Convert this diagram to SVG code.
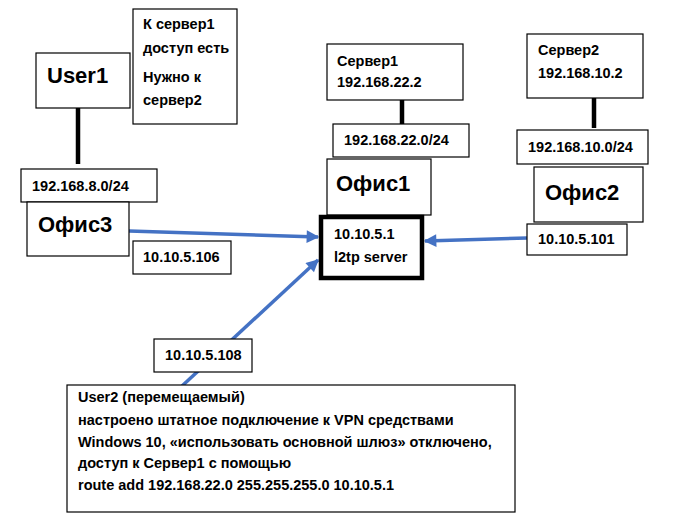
<svg xmlns="http://www.w3.org/2000/svg" width="681" height="524" viewBox="0 0 681 524">
<defs>
<style>
.b{fill:#fff;stroke:#000;stroke-width:1.2}
.t{font-family:"Liberation Sans",Arial,sans-serif;font-weight:bold;font-size:14.5px;fill:#000}
.h{font-family:"Liberation Sans",Arial,sans-serif;font-weight:bold;font-size:22px;fill:#000}
.k{stroke:#000;stroke-width:4.5}
.a{stroke:#4472C4;stroke-width:3.5;fill:none;marker-end:url(#ah)}
</style>
<marker id="ah" viewBox="0 0 10 10" refX="9" refY="5" markerWidth="4.5" markerHeight="3.6" orient="auto" markerUnits="strokeWidth">
<path d="M0,0 L10,5 L0,10 z" fill="#4472C4"/>
</marker>
</defs>
<rect width="681" height="524" fill="#fff"/>
<g id="connectors">
<line class="k" x1="78" y1="108" x2="78" y2="164"/>
<line class="k" x1="402" y1="100" x2="402" y2="128"/>
<line class="k" x1="594" y1="98" x2="594" y2="128"/>
<line class="a" x1="129" y1="231" x2="318" y2="237"/>
<line class="a" x1="527" y1="238" x2="425" y2="241"/>
<line class="a" x1="182" y1="386" x2="318" y2="260"/>
</g>
<g id="user1"><rect class="b" x="36" y="53" width="94" height="55"/><text class="h" x="47" y="83">User1</text></g>
<g id="note1"><rect class="b" x="133" y="9" width="104" height="115"/>
<text class="t" x="143" y="29">К сервер1</text>
<text class="t" x="143" y="53">доступ есть</text>
<text class="t" x="143" y="82">Нужно к</text>
<text class="t" x="143" y="105">сервер2</text></g>
<g id="net3"><rect class="b" x="21" y="169" width="136" height="33"/><text class="t" x="32" y="191">192.168.8.0/24</text></g>
<g id="office3"><rect class="b" x="27" y="202" width="102" height="54"/><text class="h" x="38" y="232">Офис3</text></g>
<g id="ip106"><rect class="b" x="133" y="241" width="98" height="33"/><text class="t" x="143" y="262">10.10.5.106</text></g>
<g id="server1"><rect class="b" x="327" y="44" width="136" height="56"/>
<text class="t" x="337" y="66">Сервер1</text><text class="t" x="337" y="87">192.168.22.2</text></g>
<g id="net1"><rect class="b" x="333" y="124" width="136" height="33"/><text class="t" x="344" y="145">192.168.22.0/24</text></g>
<g id="office1"><rect class="b" x="327" y="159" width="104" height="56"/><text class="h" x="336" y="191">Офис1</text></g>
<g id="l2tp"><rect x="321" y="217" width="101" height="61" fill="#fff" stroke="#000" stroke-width="4.5"/>
<text class="t" x="334" y="239">10.10.5.1</text><text class="t" x="334" y="262">l2tp server</text></g>
<g id="server2"><rect class="b" x="527" y="34" width="116" height="64"/>
<text class="t" x="538" y="55">Сервер2</text><text class="t" x="538" y="78">192.168.10.2</text></g>
<g id="net2"><rect class="b" x="517" y="130" width="131" height="34"/><text class="t" x="528" y="152">192.168.10.0/24</text></g>
<g id="office2"><rect class="b" x="534" y="167" width="109" height="55"/><text class="h" x="545" y="200">Офис2</text></g>
<g id="ip101"><rect class="b" x="527" y="224" width="100" height="31"/><text class="t" x="538" y="244">10.10.5.101</text></g>
<g id="ip108"><rect class="b" x="154" y="339" width="98" height="33"/><text class="t" x="165" y="360">10.10.5.108</text></g>
<g id="user2"><rect class="b" x="67" y="385" width="448" height="127"/>
<text class="t" x="78" y="402">User2 (перемещаемый)</text>
<text class="t" x="78" y="425">настроено штатное подключение к VPN средствами</text>
<text class="t" x="78" y="447">Windows 10, «использовать основной шлюз» отключено,</text>
<text class="t" x="78" y="468">доступ к Сервер1 с помощью</text>
<text class="t" x="78" y="490">route add 192.168.22.0 255.255.255.0 10.10.5.1</text></g>
</svg>
